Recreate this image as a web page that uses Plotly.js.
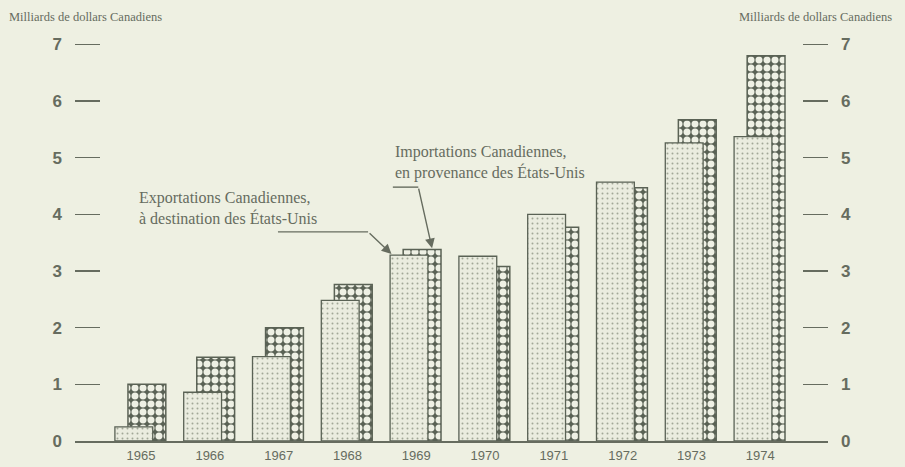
<!DOCTYPE html>
<html>
<head>
<meta charset="utf-8">
<script src="https://cdn.plot.ly/plotly-3.0.1.min.js"></script>
<style>
  html, body { margin: 0; padding: 0; background: #eef0e2; }
  #chart { width: 905px; height: 467px; }
</style>
</head>
<body>
<div id="chart"></div>
<script>
// ---- Data (milliards de dollars canadiens) ----
const years = [1965, 1966, 1967, 1968, 1969, 1970, 1971, 1972, 1973, 1974];
const yearLabels = ["1965", "1966", "1967", "1968", "1969", "1970", "1971", "1972", "1973", "1974"];
const exportsToUS = [0.25, 0.86, 1.49, 2.48, 3.28, 3.26, 4.00, 4.57, 5.26, 5.37];
const importsFromUS = [1.00, 1.48, 2.00, 2.76, 3.38, 3.08, 3.77, 4.47, 5.67, 6.80];
const yTickVals = [0, 1, 2, 3, 4, 5, 6, 7];
const yTickText = ["0", "1", "2", "3", "4", "5", "6", "7"];

const BG = '#eef0e2';
const INK = '#666c5f';
const DARK = '#5a6255';

const importsTrace = {
  type: 'bar',
  x: years,
  y: importsFromUS,
  offset: -0.19,
  width: 0.55,
  marker: {
    color: DARK,
    line: { color: DARK, width: 1.5 },
    pattern: { shape: '.', bgcolor: DARK, fgcolor: '#eef0e4', size: 8, solidity: 0.6, fillmode: 'replace' }
  },
  hoverinfo: 'x+y',
  showlegend: false
};

const exportsTrace = {
  type: 'bar',
  x: years,
  y: exportsToUS,
  offset: -0.38,
  width: 0.55,
  marker: {
    color: '#eaecdf',
    line: { color: DARK, width: 1.3 },
    pattern: { shape: '.', bgcolor: '#eaecdf', fgcolor: '#a2a797', size: 5, solidity: 0.12, fillmode: 'replace' }
  },
  hoverinfo: 'x+y',
  showlegend: false
};

const tickFont = { family: 'Liberation Sans, Arial, sans-serif', size: 17, color: INK, weight: 'bold' };
const serif = 'Liberation Serif, Times New Roman, serif';

const layout = {
  width: 905,
  height: 467,
  margin: { l: 75, r: 77, t: 16, b: 26 },
  paper_bgcolor: BG,
  plot_bgcolor: BG,
  barmode: 'overlay',
  xaxis: {
    range: [1964.04, 1974.985],
    tickvals: years,
    ticktext: yearLabels,
    showgrid: false,
    zeroline: false,
    showline: true,
    linecolor: INK,
    linewidth: 2,
    ticks: '',
    ticklabelstandoff: 1,
    tickfont: { family: 'Liberation Sans, Arial, sans-serif', size: 13, color: INK }
  },
  yaxis: {
    range: [0, 7.5],
    tickvals: yTickVals,
    ticktext: yTickText,
    showgrid: false,
    zeroline: false,
    showline: false,
    ticks: 'inside',
    ticklen: 25,
    tickwidth: 1.6,
    tickcolor: INK,
    ticklabelstandoff: 12,
    tickfont: tickFont
  },
  yaxis2: {
    overlaying: 'y',
    side: 'right',
    range: [0, 7.5],
    tickvals: yTickVals,
    ticktext: yTickText,
    showgrid: false,
    zeroline: false,
    showline: false,
    ticks: 'inside',
    ticklen: 25,
    tickwidth: 1.6,
    tickcolor: INK,
    ticklabelstandoff: 12,
    tickfont: tickFont
  },
  shapes: [
    { type: 'line', xref: 'x', yref: 'y', x0: 1966.99, y0: 3.69, x1: 1968.30, y1: 3.69,
      line: { color: INK, width: 1.4 } },
    { type: 'line', xref: 'x', yref: 'y', x0: 1968.66, y0: 4.48, x1: 1969.03, y1: 4.48,
      line: { color: INK, width: 1.4 } }
  ],
  annotations: [
    { xref: 'paper', yref: 'paper', x: -0.09, y: 0.998, xanchor: 'left', yanchor: 'middle',
      text: 'Milliards de dollars Canadiens', showarrow: false,
      font: { family: serif, size: 12.5, color: INK } },
    { xref: 'paper', yref: 'paper', x: 1.088, y: 0.998, xanchor: 'right', yanchor: 'middle',
      text: 'Milliards de dollars Canadiens', showarrow: false,
      font: { family: serif, size: 12.5, color: INK } },
    { xref: 'x', yref: 'y', x: 1964.94, y: 4.11, xanchor: 'left', yanchor: 'middle', align: 'left',
      text: 'Exportations Canadiennes,<br>à destination des États-Unis', showarrow: false,
      font: { family: serif, size: 16, color: INK } },
    { xref: 'x', yref: 'y', x: 1968.66, y: 4.92, xanchor: 'left', yanchor: 'middle', align: 'left',
      text: 'Importations Canadiennes,<br>en provenance des États-Unis', showarrow: false,
      font: { family: serif, size: 16, color: INK } },
    { xref: 'x', yref: 'y', axref: 'x', ayref: 'y', x: 1968.64, y: 3.30, ax: 1968.30, ay: 3.69,
      text: '', showarrow: true, arrowhead: 2, arrowsize: 1.4, arrowwidth: 1.4, arrowcolor: INK },
    { xref: 'x', yref: 'y', axref: 'x', ayref: 'y', x: 1969.23, y: 3.40, ax: 1969.03, ay: 4.48,
      text: '', showarrow: true, arrowhead: 2, arrowsize: 1.4, arrowwidth: 1.4, arrowcolor: INK }
  ]
};

// invisible trace so that the right-hand axis is drawn
const axisHolder = { type: 'scatter', x: [years[0]], y: [0], yaxis: 'y2', mode: 'markers',
  marker: { opacity: 0 }, hoverinfo: 'skip', showlegend: false };

Plotly.newPlot('chart', [importsTrace, exportsTrace, axisHolder], layout, { staticPlot: true });
</script>
</body>
</html>
